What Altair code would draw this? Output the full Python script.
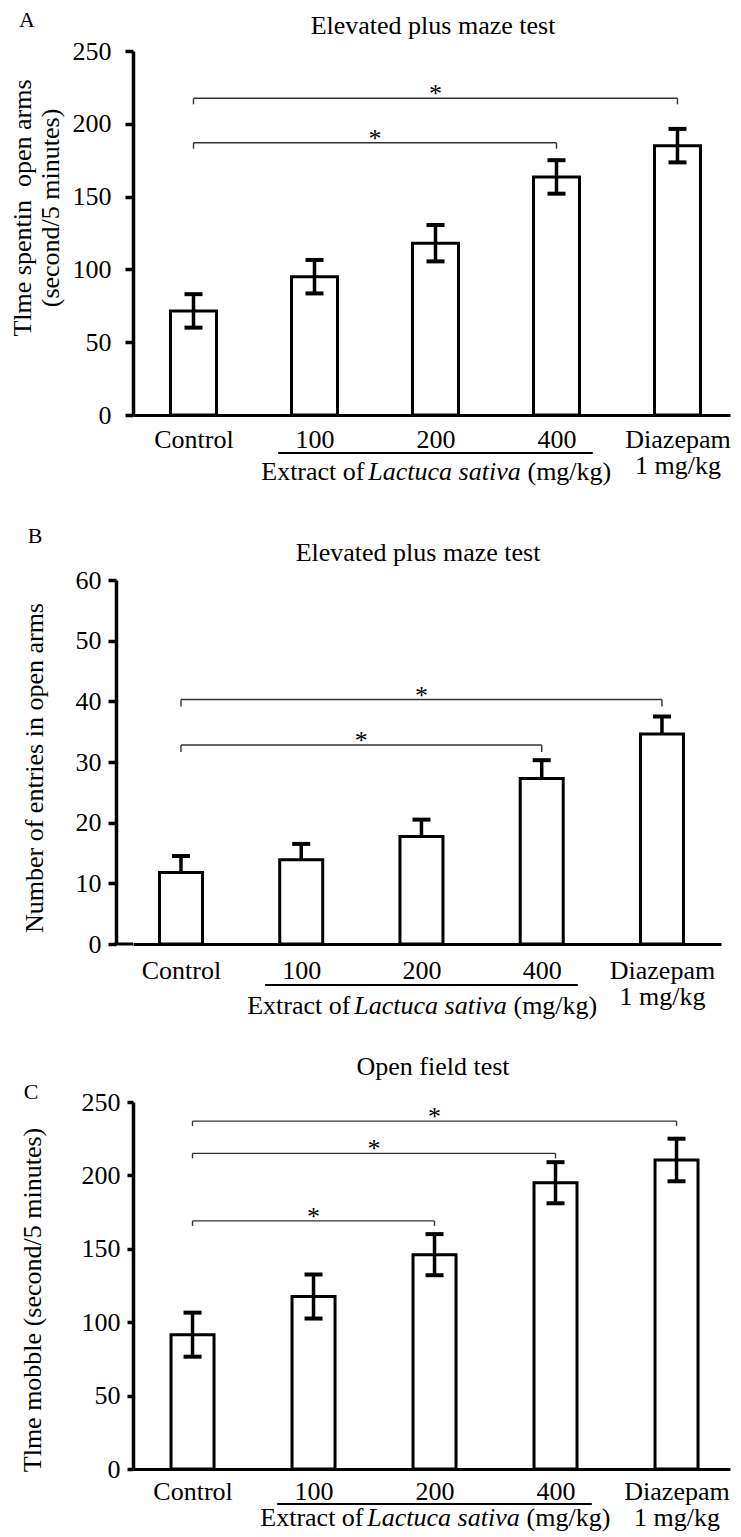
import json
import altair as alt
import pandas as pd

FONT = "Liberation Serif"

# ---------------- data ----------------
groups = ["Control", "100", "200", "400", "Diazepam"]
group_pos = [0, 1, 2, 3, 4]
diazepam_dose = "1 mg/kg"
extract_parts = ["Extract of", "Lactuca sativa", "(mg/kg)"]

# Panel A: Elevated plus maze - time spent in open arms
a_mean = [71.5, 95, 118, 163.5, 185]
a_sem = [11.5, 11.5, 12.5, 11.5, 11.5]
a_bracket_to = [3, 4]
a_bracket_y = [187, 217.5]

# Panel B: Elevated plus maze - number of entries in open arms
b_mean = [11.8, 13.9, 17.7, 27.3, 34.6]
b_sem = [2.7, 2.6, 2.8, 3.0, 2.9]
b_bracket_to = [3, 4]
b_bracket_y = [32.8, 40.3]

# Panel C: Open field - time mobile
c_mean = [91.5, 117.5, 146, 195, 210.5]
c_sem = [15, 15, 14, 14, 14.5]
c_bracket_to = [2, 3, 4]
c_bracket_y = [169, 215, 237]

underline_span = [0.7, 3.3]

label_list = groups[:-1] + [[groups[-1], diazepam_dose]]
label_expr = json.dumps(label_list) + "[datum.value]"


def panel(cfg):
    W, H = cfg["width"], cfg["height"]
    ymax = cfg["ymax"]
    yoff = cfg["yoffset"]
    df = pd.DataFrame({"pos": group_pos, "group": groups,
                       "mean": cfg["mean"], "sem": cfg["sem"]})
    df["lo"] = df["mean"] - df["sem"]
    df["hi"] = df["mean"] + df["sem"]

    drop = cfg["drop_px"] * ymax / H
    br = pd.DataFrame({"x0": [0] * len(cfg["bto"]), "x1": cfg["bto"],
                       "level": cfg["by"]})
    br["mid"] = (br["x0"] + br["x1"]) / 2
    br["low"] = br["level"] - drop
    ends = pd.concat([
        pd.DataFrame({"xe": br["x0"], "level": br["level"], "low": br["low"]}),
        pd.DataFrame({"xe": br["x1"], "level": br["level"], "low": br["low"]}),
    ])

    xscale = alt.Scale(domain=cfg["xdom"], nice=False, zero=False, padding=0)
    yscale = alt.Scale(domain=[0, ymax], nice=False, zero=True, padding=0)
    xaxis = alt.Axis(values=group_pos, labelExpr=label_expr, title=None,
                     grid=False, ticks=False, tickSize=0,
                     domainColor="black", domainWidth=3,
                     labelFont=FONT, labelFontSize=26, labelColor="black",
                     labelPadding=cfg["xlabpad"], labelLineHeight=26,
                     labelFlush=False, labelOverlap=False, labelBound=False)
    yaxis = alt.Axis(values=cfg["yticks"], title=None, offset=yoff,
                     grid=False, domainColor="black", domainWidth=3.5,
                     tickColor="black", tickWidth=3.5,
                     tickSize=cfg["ticksize"], labelFont=FONT,
                     labelFontSize=26, labelColor="black",
                     labelPadding=cfg["ylabpad"], labelFlush=False)

    def X(f):
        return alt.X(f, scale=xscale, axis=xaxis)

    def Y(f):
        return alt.Y(f, scale=yscale, axis=yaxis)

    bars = alt.Chart(df).mark_bar(size=cfg["barsize"], fill="white",
                                  stroke="black", strokeWidth=3,
                                  opacity=1).encode(x=X("pos:Q"), y=Y("mean:Q"))
    if cfg["full_err"]:
        stems = alt.Chart(df).mark_rule(color="black", strokeWidth=3.5).encode(
            x=X("pos:Q"), y=Y("lo:Q"), y2="hi:Q")
        caps_lo = alt.Chart(df).mark_tick(orient="horizontal", size=18,
                                          thickness=4, color="black",
                                          opacity=1).encode(x=X("pos:Q"), y=Y("lo:Q"))
    else:
        stems = alt.Chart(df).mark_rule(color="black", strokeWidth=3.5).encode(
            x=X("pos:Q"), y=Y("mean:Q"), y2="hi:Q")
        caps_lo = None
    caps_hi = alt.Chart(df).mark_tick(orient="horizontal", size=18,
                                      thickness=4, color="black",
                                      opacity=1).encode(x=X("pos:Q"), y=Y("hi:Q"))

    hline = alt.Chart(br).mark_rule(color="#333", strokeWidth=1.4).encode(
        x=X("x0:Q"), x2="x1:Q", y=Y("level:Q"))
    vend = alt.Chart(ends).mark_rule(color="#333", strokeWidth=1.4).encode(
        x=X("xe:Q"), y=Y("level:Q"), y2="low:Q")
    stars = alt.Chart(br).mark_text(text="*", font=FONT, fontSize=26,
                                    color="black", baseline="alphabetic",
                                    align="center", dy=4).encode(
        x=X("mid:Q"), y=Y("level:Q"))

    one = pd.DataFrame({"c": [2], "u0": [underline_span[0]],
                        "u1": [underline_span[1]]})
    uline = alt.Chart(one).mark_rule(color="black", strokeWidth=2).encode(
        x=X("u0:Q"), x2="u1:Q", y=alt.value(cfg["uline_y"]))
    ext_y = alt.value(cfg["ext_y"])
    t1 = alt.Chart(one).mark_text(text=extract_parts[0], font=FONT, fontSize=26,
                                  color="black", align="right",
                                  baseline="alphabetic", dx=-71).encode(
        x=X("c:Q"), y=ext_y)
    t2 = alt.Chart(one).mark_text(text=extract_parts[1], font=FONT, fontSize=26,
                                  fontStyle="italic", color="black",
                                  align="center", baseline="alphabetic",
                                  dx=9).encode(x=X("c:Q"), y=ext_y)
    t3 = alt.Chart(one).mark_text(text=extract_parts[2], font=FONT, fontSize=26,
                                  color="black", align="left",
                                  baseline="alphabetic", dx=92).encode(
        x=X("c:Q"), y=ext_y)

    letter = alt.Chart(one).mark_text(text=cfg["letter"], font=FONT,
                                      fontSize=22, color="black",
                                      align="center", baseline="alphabetic").encode(
        x=alt.value(cfg["letter_x"]), y=alt.value(cfg["letter_y"]))
    title = alt.Chart(one).mark_text(text=cfg["title"], font=FONT, fontSize=26,
                                     color="black", align="center",
                                     baseline="alphabetic").encode(
        x=alt.value(cfg["title_x"]), y=alt.value(cfg["title_y"]))
    ytitles = []
    for txt, bx in zip(cfg["ytitle"], cfg["ytitle_x"]):
        ytitles.append(alt.Chart(one).mark_text(
            text=txt, font=FONT, fontSize=26, color="black", angle=270,
            align="center", baseline="alphabetic").encode(
            x=alt.value(bx), y=alt.value(cfg["ytitle_y"])))
    # white (invisible) layout guide fixing the panel's outer bounds
    frame = alt.Chart(one).mark_rule(color="white", strokeWidth=0.5).encode(
        x=alt.value(cfg["frame_x"]), y=alt.value(cfg["frame_y"][0]),
        y2=alt.value(cfg["frame_y"][1]))

    layers = [frame, hline, vend, stars]
    if cfg["full_err"]:
        layers += [bars, stems, caps_lo, caps_hi]
    else:
        layers += [stems, caps_hi, bars]
    layers += [uline, t1, t2, t3, letter, title] + ytitles
    if yoff:
        # the x axis line continues left to the offset y axis
        stub = alt.Chart(one).mark_rule(color="black", strokeWidth=3).encode(
            x=alt.value(-yoff - 1.5), x2=alt.value(0), y=alt.value(H))
        layers.append(stub)
    return alt.layer(*layers).properties(width=W, height=H)


cfgA = dict(letter="A", title="Elevated plus maze test",
            ytitle=["Tlme spentin\u00a0 open arms", "(second/5 minutes)"],
            ytitle_x=[-102, -74], ytitle_y=157, yoffset=0,
            mean=a_mean, sem=a_sem, bto=a_bracket_to, by=a_bracket_y,
            ymax=250, yticks=[0, 50, 100, 150, 200, 250],
            width=597, height=364, xdom=[-0.5, 4.434],
            ticksize=8, ylabpad=14, xlabpad=11, barsize=46,
            full_err=True, drop_px=6,
            letter_x=-106, letter_y=-24, title_x=300, title_y=-17,
            uline_y=402, ext_y=429, frame_x=-124, frame_y=[-42, 450])

cfgB = dict(letter="B", title="Elevated plus maze test",
            ytitle=["Number of entries in open arms"],
            ytitle_x=[-90], ytitle_y=188, yoffset=17,
            mean=b_mean, sem=b_sem, bto=b_bracket_to, by=b_bracket_y,
            ymax=60, yticks=[0, 10, 20, 30, 40, 50, 60],
            width=588, height=364, xdom=[-0.399, 4.491],
            ticksize=8, ylabpad=7, xlabpad=13, barsize=43,
            full_err=False, drop_px=7,
            letter_x=-98, letter_y=-37, title_x=285, title_y=-19,
            uline_y=405, ext_y=434, frame_x=-124, frame_y=[-77, 463])

cfgC = dict(letter="C", title="Open field test",
            ytitle=["Tlme mobble (second/5 minutes)"],
            ytitle_x=[-92], ytitle_y=198, yoffset=0,
            mean=c_mean, sem=c_sem, bto=c_bracket_to, by=c_bracket_y,
            ymax=250, yticks=[0, 50, 100, 150, 200, 250],
            width=597, height=367, xdom=[-0.492, 4.442],
            ticksize=6, ylabpad=7, xlabpad=9.5, barsize=43,
            full_err=True, drop_px=5,
            letter_x=-102, letter_y=-3, title_x=300, title_y=-27,
            uline_y=402, ext_y=424, frame_x=-124, frame_y=[-57, 430])

chart = alt.vconcat(
    panel(cfgA), panel(cfgB), panel(cfgC), spacing=0,
).properties(padding=0, background="white").configure_view(stroke=None)

chart.save("out.html", embed_options={"renderer": "svg", "actions": False})
